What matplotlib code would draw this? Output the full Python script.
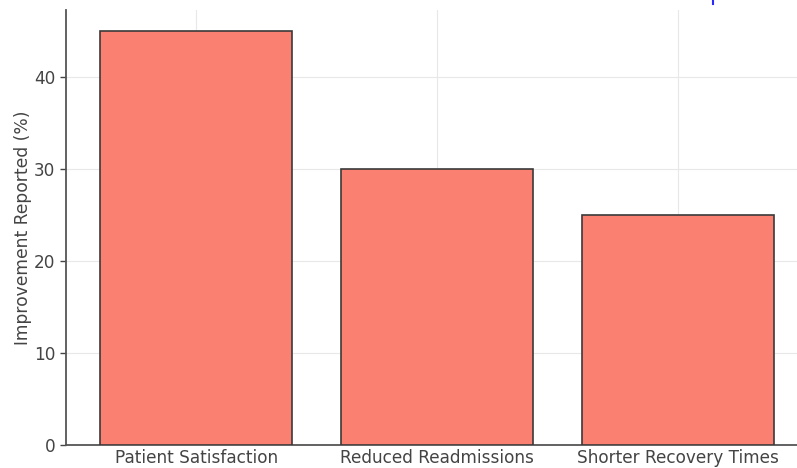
import matplotlib
matplotlib.use("Agg")
import matplotlib.pyplot as plt
import matplotlib.lines as mlines

categories = ["Patient Satisfaction", "Reduced Readmissions", "Shorter Recovery Times"]
improvement = [45, 30, 25]

plt.rcParams['font.family'] = 'DejaVu Sans'

fig = plt.figure(figsize=(7.97, 4.68), dpi=100)
ax = fig.add_axes([66/797, 23/468, 742/797, 435/468])

ax.bar(categories, improvement, color='salmon', edgecolor='#3a3a3a', linewidth=1.2, zorder=3)
ax.grid(True, color='#e8e8e8', linewidth=0.8, zorder=0)
ax.set_ylabel("Improvement Reported (%)", fontsize=12.3, color='#444444', labelpad=1.5)
ax.tick_params(axis='both', labelsize=12.2, colors='#444444', length=4, width=1)
ax.tick_params(axis='x', length=0, pad=3)
ax.set_yticks([0, 10, 20, 30, 40])

for s in ['top', 'right']:
    ax.spines[s].set_visible(False)
for s in ['left', 'bottom']:
    ax.spines[s].set_color('#555555')
    ax.spines[s].set_linewidth(1.3)

# small clipped blue mark at the top edge
fig.add_artist(mlines.Line2D([713/797, 713/797], [1.0, 464/468], color='#2a2aff', linewidth=1.5))

fig.savefig("out.png", dpi=100)
